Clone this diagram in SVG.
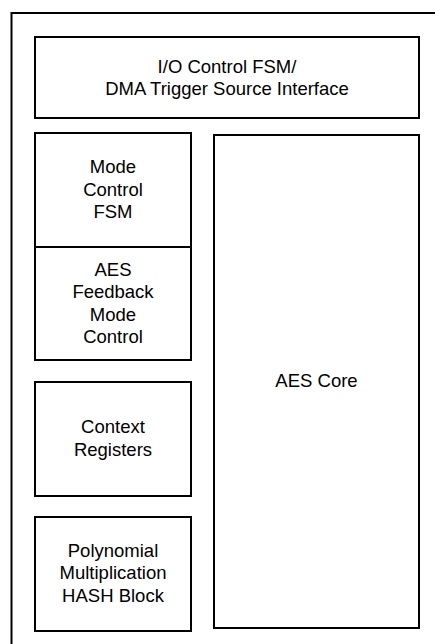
<svg xmlns="http://www.w3.org/2000/svg" width="435" height="644" viewBox="0 0 435 644">
<style>
.box{fill:#fff;stroke:#000;stroke-width:2}
.lbl{font-family:"Liberation Sans",Arial,sans-serif;font-size:18.5px;fill:#000;text-anchor:middle}
</style>
<rect width="435" height="644" fill="#fff"/>
<g id="outer"><rect x="11.5" y="13" width="440" height="650" fill="none" stroke="#000" stroke-width="2"/></g>
<g id="connectors"></g>
<g id="io-control">
<rect class="box" x="35" y="37" width="384" height="81"/>
<text class="lbl" x="227" y="73">I/O Control FSM/</text>
<text class="lbl" x="227" y="95">DMA Trigger Source Interface</text>
</g>
<g id="mode-control">
<rect class="box" x="35" y="133" width="156" height="114"/>
<text class="lbl" x="113" y="173">Mode</text>
<text class="lbl" x="113" y="196">Control</text>
<text class="lbl" x="113" y="218">FSM</text>
</g>
<g id="aes-feedback">
<rect class="box" x="35" y="247" width="156" height="113"/>
<text class="lbl" x="113" y="276">AES</text>
<text class="lbl" x="113" y="298">Feedback</text>
<text class="lbl" x="113" y="321">Mode</text>
<text class="lbl" x="113" y="343">Control</text>
</g>
<g id="context-registers">
<rect class="box" x="35" y="382" width="156" height="114"/>
<text class="lbl" x="113" y="433">Context</text>
<text class="lbl" x="113" y="456">Registers</text>
</g>
<g id="poly-hash">
<rect class="box" x="35" y="517" width="156" height="114"/>
<text class="lbl" x="113" y="557">Polynomial</text>
<text class="lbl" x="113" y="579">Multiplication</text>
<text class="lbl" x="113" y="602">HASH Block</text>
</g>
<g id="aes-core">
<rect class="box" x="214" y="135" width="205" height="493"/>
<text class="lbl" x="316.5" y="387">AES Core</text>
</g>
</svg>
